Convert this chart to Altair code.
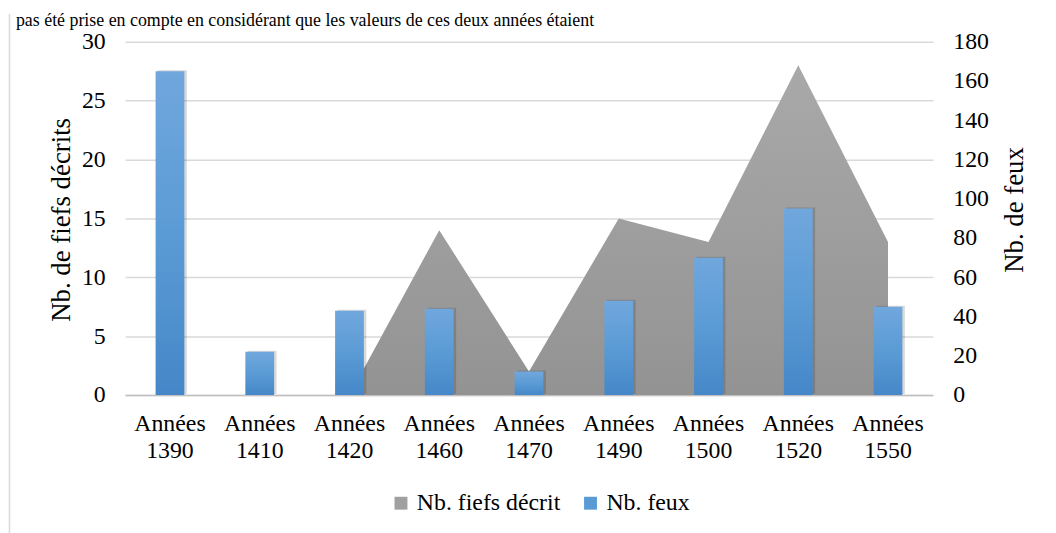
import altair as alt
import pandas as pd

categories = ["Années 1390", "Années 1410", "Années 1420", "Années 1460", "Années 1470",
              "Années 1490", "Années 1500", "Années 1520", "Années 1550"]
fiefs = [None, None, 0, 14, 2, 15, 13, 28, 13]
feux = [165, 22, 43, 44, 12, 48, 70, 95, 45]
series_names = ["Nb. fiefs décrit", "Nb. feux"]
series_colors = ["#a0a0a0", "#5b9bd5"]
left_ticks = [0, 5, 10, 15, 20, 25, 30]
right_ticks = [0, 20, 40, 60, 80, 100, 120, 140, 160, 180]
top_text = "pas été prise en compte en considérant que les valeurs de ces deux années étaient"

FONT = "Liberation Serif, Times New Roman, serif"
W, H = 814, 356

df = pd.DataFrame({"cat": categories, "fiefs": fiefs, "feux": feux})
leg_df = pd.DataFrame({"serie": series_names})
txt_df = pd.DataFrame({"t": [top_text]})
one = pd.DataFrame({"a": [0]})

xscale = alt.Scale(type="band", domain=categories, paddingInner=0, paddingOuter=0)
xaxis = alt.Axis(title=None, labelExpr="split(datum.label, ' ')", labelFont=FONT,
                 labelFontSize=24, labelColor="#000000", labelLineHeight=27,
                 labelAngle=0, labelPadding=17, ticks=False, domain=True,
                 domainColor="#bfbfbf", domainWidth=1.5, grid=False)

area = alt.Chart(df).transform_filter("datum.fiefs != null").mark_area(
    color=alt.Gradient(gradient="linear",
                       stops=[alt.GradientStop(color="#a9a9a9", offset=0),
                              alt.GradientStop(color="#939393", offset=1)],
                       x1=0, x2=0, y1=0, y2=1)
).encode(
    x=alt.X("cat:N", sort=categories, scale=xscale, bandPosition=0.5, axis=xaxis),
    y=alt.Y("fiefs:Q", scale=alt.Scale(domain=[0, 30], nice=False),
            axis=alt.Axis(title="Nb. de fiefs décrits", orient="left", values=left_ticks,
                          labelFont=FONT, labelFontSize=24, labelColor="#000000",
                          labelPadding=20, ticks=False, domain=False,
                          grid=True, gridColor="#d9d9d9", gridWidth=1.5,
                          titleFont=FONT, titleFontSize=27, titleFontWeight="normal",
                          titleColor="#000000", titleAngle=270, titleX=-56, titleY=179,
                          titleAlign="center", titleBaseline="alphabetic")),
)

shadow = alt.Chart(df).mark_bar(size=29, color="#000000", opacity=0.15, xOffset=2.5, yOffset=-1).encode(
    x=alt.X("cat:N", sort=categories, scale=xscale, axis=xaxis),
    y=alt.Y("feux:Q", scale=alt.Scale(domain=[0, 180], nice=False), axis=None),
)

bars = alt.Chart(df).mark_bar(
    size=29,
    color=alt.Gradient(gradient="linear",
                       stops=[alt.GradientStop(color="#70a7dd", offset=0),
                              alt.GradientStop(color="#5b9bd5", offset=0.5),
                              alt.GradientStop(color="#4587c8", offset=1)],
                       x1=0, x2=0, y1=0, y2=1)
).encode(
    x=alt.X("cat:N", sort=categories, scale=xscale, axis=xaxis),
    y=alt.Y("feux:Q", scale=alt.Scale(domain=[0, 180], nice=False),
            axis=alt.Axis(title="Nb. de feux", orient="right", values=right_ticks,
                          labelFont=FONT, labelFontSize=24, labelColor="#000000",
                          labelPadding=20, ticks=False, domain=False, grid=False,
                          titleFont=FONT, titleFontSize=27, titleFontWeight="normal",
                          titleColor="#000000", titleAngle=270, titleX=90, titleY=169,
                          titleAlign="center", titleBaseline="alphabetic")),
)

legend_layer = alt.Chart(leg_df).mark_square(opacity=0).encode(
    color=alt.Color("serie:N", sort=series_names,
                    scale=alt.Scale(domain=series_names, range=series_colors),
                    legend=alt.Legend(title=None, orient="none", legendX=266, legendY=453,
                                      direction="horizontal", symbolType="square",
                                      symbolSize=169, symbolStrokeWidth=0, symbolOpacity=1,
                                      labelFont=FONT, labelFontSize=24, labelColor="#000000",
                                      labelOffset=4, columnPadding=18, labelLimit=400))
)

top_line = alt.Chart(txt_df).mark_text(
    align="left", baseline="alphabetic", font=FONT, fontSize=18, color="#000000"
).encode(text="t:N", x=alt.value(-110), y=alt.value(-16))

frame_v = alt.Chart(one).mark_rule(color="#d9d9d9", strokeWidth=1.5).encode(
    x=alt.value(-116.5), y=alt.value(-28), y2=alt.value(H + 140))

chart = alt.layer(frame_v, top_line, area, shadow, bars, legend_layer).resolve_scale(
    y="independent", color="independent"
).properties(
    width=W, height=H,
    autosize=alt.AutoSizeParams(type="none"),
    padding={"left": 118, "top": 32, "right": 116, "bottom": 137},
    background="#ffffff",
).configure_view(stroke=None).configure_legend(labelFont=FONT).configure_axis(labelFont=FONT, titleFont=FONT)

chart.save("out.html", embed_options={"renderer": "svg", "actions": False})
